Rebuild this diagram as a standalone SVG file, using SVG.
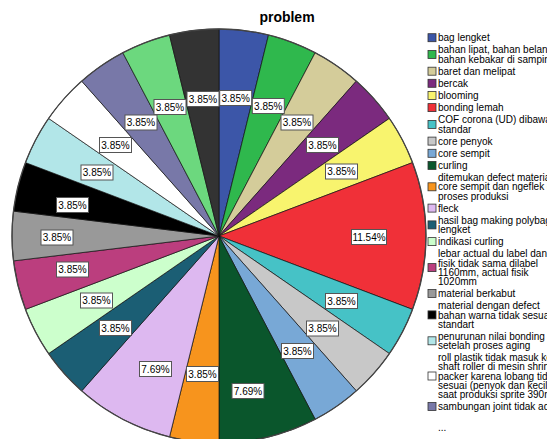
<svg xmlns="http://www.w3.org/2000/svg" width="547" height="439" viewBox="0 0 547 439">
<style>
.s{stroke:#111;stroke-width:0.7;stroke-linejoin:round}
.lb{fill:#fff;stroke:#555;stroke-width:1}
.lt{font-family:"Liberation Sans",Arial,sans-serif;font-size:10px;fill:#000;text-anchor:middle}
.lg{font-family:"Liberation Sans",Arial,sans-serif;font-size:10px;fill:#000}
.sw{stroke:#333;stroke-width:0.8}
.title{font-family:"Liberation Sans",Arial,sans-serif;font-size:14px;font-weight:bold;fill:#000;text-anchor:middle}
</style>
<rect width="547" height="439" fill="#fff"/>
<text class="title" x="287" y="22">problem</text>
<g id="pie">
<path class="s" fill="#3c56a8" d="M219 236 L219 29 A207 207 0 0 1 268.5 35.0 Z"/>
<path class="s" fill="#2fb84d" d="M219 236 L268.5 35.0 A207 207 0 0 1 315.2 52.7 Z"/>
<path class="s" fill="#d4cc9a" d="M219 236 L315.2 52.7 A207 207 0 0 1 356.3 81.1 Z"/>
<path class="s" fill="#7b2a7e" d="M219 236 L356.3 81.1 A207 207 0 0 1 389.4 118.4 Z"/>
<path class="s" fill="#f8f46e" d="M219 236 L389.4 118.4 A207 207 0 0 1 412.5 162.6 Z"/>
<path class="s" fill="#f03038" d="M219 236 L412.5 162.6 A207 207 0 0 1 412.5 309.4 Z"/>
<path class="s" fill="#46c2c6" d="M219 236 L412.5 309.4 A207 207 0 0 1 389.4 353.6 Z"/>
<path class="s" fill="#c8c8c8" d="M219 236 L389.4 353.6 A207 207 0 0 1 356.3 390.9 Z"/>
<path class="s" fill="#78a8d6" d="M219 236 L356.3 390.9 A207 207 0 0 1 315.2 419.3 Z"/>
<path class="s" fill="#0a562c" d="M219 236 L315.2 419.3 A207 207 0 0 1 219 443 Z"/>
<path class="s" fill="#f7941d" d="M219 236 L219 443 A207 207 0 0 1 169.5 437.0 Z"/>
<path class="s" fill="#ddb8f0" d="M219 236 L169.5 437.0 A207 207 0 0 1 81.7 390.9 Z"/>
<path class="s" fill="#1b5e74" d="M219 236 L81.7 390.9 A207 207 0 0 1 48.6 353.6 Z"/>
<path class="s" fill="#ccffcc" d="M219 236 L48.6 353.6 A207 207 0 0 1 25.5 309.4 Z"/>
<path class="s" fill="#bb3e7e" d="M219 236 L25.5 309.4 A207 207 0 0 1 13.5 260.9 Z"/>
<path class="s" fill="#999999" d="M219 236 L13.5 260.9 A207 207 0 0 1 13.5 211.1 Z"/>
<path class="s" fill="#000000" d="M219 236 L13.5 211.1 A207 207 0 0 1 25.5 162.6 Z"/>
<path class="s" fill="#b2e6e8" d="M219 236 L25.5 162.6 A207 207 0 0 1 48.6 118.4 Z"/>
<path class="s" fill="#ffffff" d="M219 236 L48.6 118.4 A207 207 0 0 1 81.7 81.1 Z"/>
<path class="s" fill="#7878a8" d="M219 236 L81.7 81.1 A207 207 0 0 1 122.8 52.7 Z"/>
<path class="s" fill="#6cd87e" d="M219 236 L122.8 52.7 A207 207 0 0 1 169.5 35.0 Z"/>
<path class="s" fill="#333333" d="M219 236 L169.5 35.0 A207 207 0 0 1 219 29 Z"/>
<circle cx="219" cy="236" r="207" fill="none" stroke="#444" stroke-width="1.3"/>
</g>
<g id="labels">
<rect class="lb" x="219.7" y="90.5" width="32" height="15"/><text class="lt" x="235.7" y="101.6">3.85%</text>
<rect class="lb" x="252.3" y="98.5" width="32" height="15"/><text class="lt" x="268.3" y="109.6">3.85%</text>
<rect class="lb" x="281" y="115" width="32" height="15"/><text class="lt" x="297" y="126.1">3.85%</text>
<rect class="lb" x="306.5" y="137.5" width="32" height="15"/><text class="lt" x="322.5" y="148.6">3.85%</text>
<rect class="lb" x="325.5" y="164" width="32" height="15"/><text class="lt" x="341.5" y="175.1">3.85%</text>
<rect class="lb" x="351.5" y="229.5" width="35" height="15"/><text class="lt" x="369" y="240.6">11.54%</text>
<rect class="lb" x="325.5" y="293.5" width="32" height="15"/><text class="lt" x="341.5" y="304.6">3.85%</text>
<rect class="lb" x="306.5" y="321" width="32" height="15"/><text class="lt" x="322.5" y="332.1">3.85%</text>
<rect class="lb" x="281.5" y="343.5" width="32" height="15"/><text class="lt" x="297.5" y="354.6">3.85%</text>
<rect class="lb" x="232" y="383.5" width="32" height="15"/><text class="lt" x="248" y="394.6">7.69%</text>
<rect class="lb" x="186.5" y="366.5" width="32" height="15"/><text class="lt" x="202.5" y="377.6">3.85%</text>
<rect class="lb" x="139.5" y="361.5" width="32" height="15"/><text class="lt" x="155.5" y="372.6">7.69%</text>
<rect class="lb" x="99.5" y="320.5" width="32" height="15"/><text class="lt" x="115.5" y="331.6">3.85%</text>
<rect class="lb" x="80.5" y="293" width="32" height="15"/><text class="lt" x="96.5" y="304.1">3.85%</text>
<rect class="lb" x="56.5" y="262" width="32" height="15"/><text class="lt" x="72.5" y="273.1">3.85%</text>
<rect class="lb" x="41" y="230" width="32" height="15"/><text class="lt" x="57" y="241.1">3.85%</text>
<rect class="lb" x="56.5" y="197.5" width="32" height="15"/><text class="lt" x="72.5" y="208.6">3.85%</text>
<rect class="lb" x="81" y="165" width="32" height="15"/><text class="lt" x="97" y="176.1">3.85%</text>
<rect class="lb" x="99.5" y="137.5" width="32" height="15"/><text class="lt" x="115.5" y="148.6">3.85%</text>
<rect class="lb" x="125" y="115" width="32" height="15"/><text class="lt" x="141" y="126.1">3.85%</text>
<rect class="lb" x="154" y="99.5" width="32" height="15"/><text class="lt" x="170" y="110.6">3.85%</text>
<rect class="lb" x="187" y="91.5" width="32" height="15"/><text class="lt" x="203" y="102.6">3.85%</text>
</g>
<g id="legend">
<rect class="sw" fill="#3c56a8" x="428" y="33.7" width="8" height="8"/><text class="lg" x="438" y="41.3">bag lengket</text>
<rect class="sw" fill="#2fb84d" x="428" y="50.5" width="8" height="8"/><text class="lg" x="438" y="53.4">bahan lipat, bahan belang</text><text class="lg" x="438" y="62.6">bahan kebakar di samping</text>
<rect class="sw" fill="#d4cc9a" x="428" y="67.2" width="8" height="8"/><text class="lg" x="438" y="74.8">baret dan melipat</text>
<rect class="sw" fill="#7b2a7e" x="428" y="79.3" width="8" height="8"/><text class="lg" x="438" y="86.9">bercak</text>
<rect class="sw" fill="#f8f46e" x="428" y="91.5" width="8" height="8"/><text class="lg" x="438" y="99.1">blooming</text>
<rect class="sw" fill="#f03038" x="428" y="103.6" width="8" height="8"/><text class="lg" x="438" y="111.2">bonding lemah</text>
<rect class="sw" fill="#46c2c6" x="428" y="120.4" width="8" height="8"/><text class="lg" x="438" y="123.4">COF corona (UD) dibawah</text><text class="lg" x="438" y="132.6">standar</text>
<rect class="sw" fill="#c8c8c8" x="428" y="137.1" width="8" height="8"/><text class="lg" x="438" y="144.7">core penyok</text>
<rect class="sw" fill="#78a8d6" x="428" y="149.3" width="8" height="8"/><text class="lg" x="438" y="156.9">core sempit</text>
<rect class="sw" fill="#0a562c" x="428" y="161.4" width="8" height="8"/><text class="lg" x="438" y="169">curling</text>
<rect class="sw" fill="#f7941d" x="428" y="182.8" width="8" height="8"/><text class="lg" x="438" y="181.2">ditemukan defect material</text><text class="lg" x="438" y="190.4">core sempit dan ngeflek di</text><text class="lg" x="438" y="199.6">proses produksi</text>
<rect class="sw" fill="#ddb8f0" x="428" y="204.1" width="8" height="8"/><text class="lg" x="438" y="211.7">fleck</text>
<rect class="sw" fill="#1b5e74" x="428" y="220.9" width="8" height="8"/><text class="lg" x="438" y="223.9">hasil bag making polybag</text><text class="lg" x="438" y="233.1">lengket</text>
<rect class="sw" fill="#ccffcc" x="428" y="237.6" width="8" height="8"/><text class="lg" x="438" y="245.2">indikasi curling</text>
<rect class="sw" fill="#bb3e7e" x="428" y="263.6" width="8" height="8"/><text class="lg" x="438" y="257.4">lebar actual du label dan</text><text class="lg" x="438" y="266.6">fisik tidak sama dilabel</text><text class="lg" x="438" y="275.8">1160mm, actual fisik</text><text class="lg" x="438" y="285">1020mm</text>
<rect class="sw" fill="#999999" x="428" y="289.5" width="8" height="8"/><text class="lg" x="438" y="297.1">material berkabut</text>
<rect class="sw" fill="#000000" x="428" y="310.9" width="8" height="8"/><text class="lg" x="438" y="309.3">material dengan defect</text><text class="lg" x="438" y="318.5">bahan warna tidak sesuai</text><text class="lg" x="438" y="327.7">standart</text>
<rect class="sw" fill="#b2e6e8" x="428" y="336.8" width="8" height="8"/><text class="lg" x="438" y="339.8">penurunan nilai bonding</text><text class="lg" x="438" y="349">setelah proses aging</text>
<rect class="sw" fill="#ffffff" x="428" y="372" width="8" height="8"/><text class="lg" x="438" y="361.2">roll plastik tidak masuk ke</text><text class="lg" x="438" y="370.4">shaft roller di mesin shrink</text><text class="lg" x="438" y="379.6">packer karena lobang tidak</text><text class="lg" x="438" y="388.8">sesuai (penyok dan kecil)</text><text class="lg" x="438" y="398">saat produksi sprite 390ml</text>
<rect class="sw" fill="#7878a8" x="428" y="402.5" width="8" height="8"/><text class="lg" x="438" y="410.1">sambungan joint tidak ada</text>
<text class="lg" x="438" y="431">...</text>
</g>
</svg>
